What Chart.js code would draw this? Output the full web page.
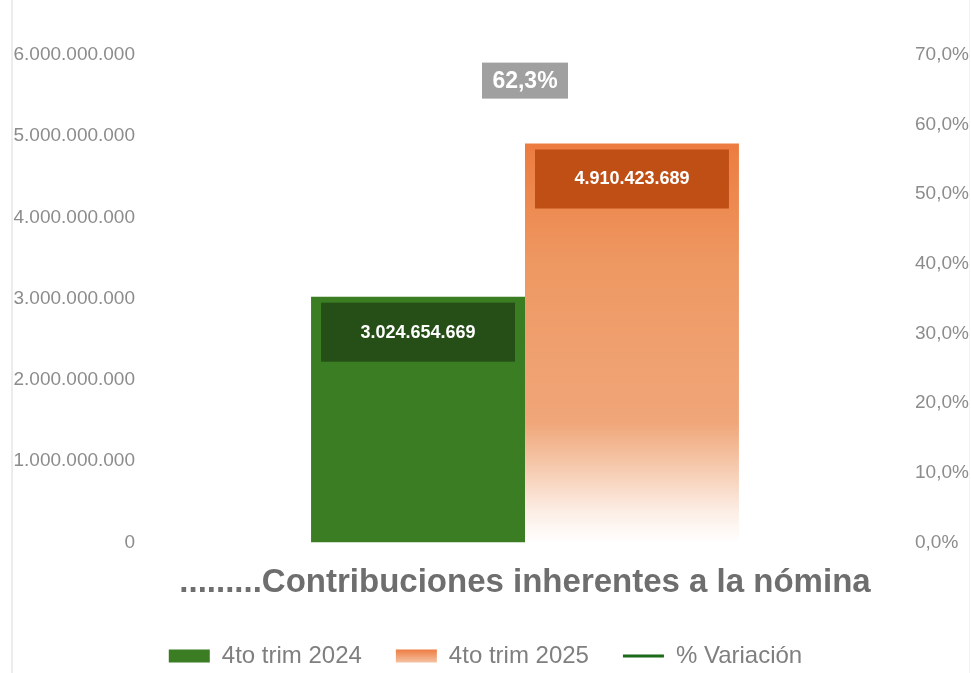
<!DOCTYPE html>
<html lang="es">
<head>
    <meta charset="UTF-8">
    <title>Contribuciones inherentes a la nómina</title>
    <script src="https://cdn.jsdelivr.net/npm/chart.js"></script>
    <style>
        body {
            margin: 0;
            background-color: #ffffff;
        }
        .marco {
            position: relative;
            width: 971px;
            height: 673px;
        }
        .marco::before {
            content: '';
            position: absolute;
            left: 11px;
            top: 0;
            bottom: 0;
            border-left: 2px solid #ececec;
        }
        .marco::after {
            content: '';
            position: absolute;
            right: 1px;
            top: 0;
            bottom: 0;
            border-right: 1px solid #f2f2f2;
        }
    </style>
</head>
<body>
    <div class="marco">
        <canvas id="grafico" width="971" height="673"></canvas>
    </div>

    <script>
        // datos del gráfico
        const categorias = ['Contribuciones inherentes a la nómina'];
        const trim2024 = [3024654669];
        const trim2025 = [4910423689];
        const variacion = [62.3];
        const series = ['4to trim 2024', '4to trim 2025', '% Variación'];
        const ejeIzqMax = 6000000000;
        const ejeIzqPaso = 1000000000;
        const ejeDerMax = 70;
        const ejeDerPaso = 10;

        const fuente = "'Liberation Sans', Arial, sans-serif";

        function miles(v) {
            return String(Math.round(v)).replace(/\B(?=(\d{3})+(?!\d))/g, '.');
        }

        function porcentaje(v) {
            return v.toFixed(1).replace('.', ',') + '%';
        }

        function degradadoBarra(context) {
            const chart = context.chart;
            const area = chart.chartArea;
            if (!area) return '#ED7D31';
            const yTop = chart.scales.y.getPixelForValue(context.raw);
            const yBase = chart.scales.y.getPixelForValue(0);
            const g = chart.ctx.createLinearGradient(0, yTop, 0, yBase);
            g.addColorStop(0, '#EC7C40');
            g.addColorStop(0.3, '#EE9862');
            g.addColorStop(0.7, '#F0A679');
            g.addColorStop(0.8, '#F5C6A8');
            g.addColorStop(0.92, '#FCEDE4');
            g.addColorStop(1, '#FFFFFF');
            return g;
        }

        // etiquetas en recuadro sobre las barras y la línea
        const etiquetas = {
            id: 'etiquetas',
            beforeDraw(chart) {
                // degradado de la caja de leyenda naranja
                const lg = chart.legend;
                if (!lg || !lg.legendItems || !lg.legendHitBoxes) return;
                lg.legendItems.forEach(function (it, k) {
                    if (it.datasetIndex !== 1) return;
                    const hb = lg.legendHitBoxes[k];
                    const mid = hb.top + hb.height / 2;
                    const g = chart.ctx.createLinearGradient(0, mid - 7, 0, mid + 7);
                    g.addColorStop(0, '#EC7A3E');
                    g.addColorStop(1, '#F6C4A6');
                    it.fillStyle = g;
                });
            },
            afterDatasetsDraw(chart) {
                const ctx = chart.ctx;
                ctx.save();
                ctx.textAlign = 'center';
                ctx.textBaseline = 'middle';
                const fondos = ['#264F17', '#C04F15'];
                [0, 1].forEach(function (i) {
                    const meta = chart.getDatasetMeta(i);
                    meta.data.forEach(function (bar, j) {
                        const w = bar.width - 20;
                        const x = bar.x - w / 2;
                        const y = bar.y + 6;
                        ctx.fillStyle = fondos[i];
                        ctx.fillRect(x, y, w, 59);
                        ctx.fillStyle = '#ffffff';
                        ctx.font = 'bold 18px ' + fuente;
                        ctx.fillText(miles(chart.data.datasets[i].data[j]), bar.x, y + 30);
                    });
                });
                const linea = chart.getDatasetMeta(2);
                linea.data.forEach(function (p, j) {
                    const texto = porcentaje(chart.data.datasets[2].data[j]);
                    ctx.fillStyle = '#A0A0A0';
                    ctx.fillRect(p.x - 43, p.y - 46, 86, 36);
                    ctx.fillStyle = '#ffffff';
                    ctx.font = 'bold 23px ' + fuente;
                    ctx.fillText(texto, p.x, p.y - 27);
                });
                ctx.restore();
            }
        };

        const ctx = document.getElementById('grafico').getContext('2d');
        const chart = new Chart(ctx, {
            type: 'bar',
            data: {
                labels: categorias,
                datasets: [
                    {
                        label: series[0],
                        data: trim2024,
                        backgroundColor: '#3A7D22',
                        pointStyle: 'rect',
                        yAxisID: 'y'
                    },
                    {
                        label: series[1],
                        data: trim2025,
                        backgroundColor: degradadoBarra,
                        pointStyle: 'rect',
                        yAxisID: 'y'
                    },
                    {
                        type: 'line',
                        label: series[2],
                        data: variacion,
                        borderColor: '#1B6B1B',
                        backgroundColor: '#1B6B1B',
                        borderWidth: 3,
                        pointRadius: 0,
                        pointStyle: 'line',
                        yAxisID: 'y1'
                    }
                ]
            },
            options: {
                responsive: false,
                animation: false,
                datasets: {
                    bar: {
                        barPercentage: 1,
                        categoryPercentage: 0.563
                    }
                },
                layout: {
                    padding: { left: 0, right: 0, top: 55, bottom: -5 }
                },
                scales: {
                    x: {
                        grid: { display: false },
                        border: { display: false },
                        ticks: { display: false },
                        title: {
                            display: true,
                            text: '.........' + categorias[0],
                            color: '#6E6E6E',
                            font: { family: fuente, size: 33, weight: 'bold' },
                            padding: { top: 13, bottom: 7 }
                        }
                    },
                    y: {
                        position: 'left',
                        min: 0,
                        max: ejeIzqMax,
                        grid: { display: false, drawTicks: false },
                        border: { display: false },
                        afterFit: function (scale) { scale.width = 145; },
                        ticks: {
                            stepSize: ejeIzqPaso,
                            color: '#8C8C8C',
                            font: { family: fuente, size: 19 },
                            padding: 10,
                            callback: function (v) { return miles(v); }
                        }
                    },
                    y1: {
                        position: 'right',
                        min: 0,
                        max: ejeDerMax,
                        grid: { display: false, drawTicks: false },
                        border: { display: false },
                        afterFit: function (scale) { scale.width = 66; },
                        ticks: {
                            stepSize: ejeDerPaso,
                            color: '#8C8C8C',
                            font: { family: fuente, size: 19 },
                            padding: 10,
                            callback: function (v) { return porcentaje(v); }
                        }
                    }
                },
                plugins: {
                    tooltip: { enabled: false },
                    legend: {
                        position: 'bottom',
                        labels: {
                            usePointStyle: true,
                            pointStyleWidth: 41,
                            boxHeight: 13,
                            padding: 34,
                            color: '#7F7F7F',
                            font: { family: fuente, size: 24 },
                            sort: function (a, b) { return a.datasetIndex - b.datasetIndex; },
                            generateLabels: function (chart) {
                                const items = Chart.defaults.plugins.legend.labels.generateLabels(chart);
                                items.forEach(function (it) {
                                    it.lineWidth = it.datasetIndex === 2 ? 3 : 0;
                                    if (it.datasetIndex === 0) it.fillStyle = '#3A7D22';
                                    if (it.datasetIndex === 1) it.fillStyle = '#EF9A66';
                                });
                                return items;
                            }
                        }
                    }
                }
            },
            plugins: [etiquetas]
        });
    </script>
</body>
</html>
